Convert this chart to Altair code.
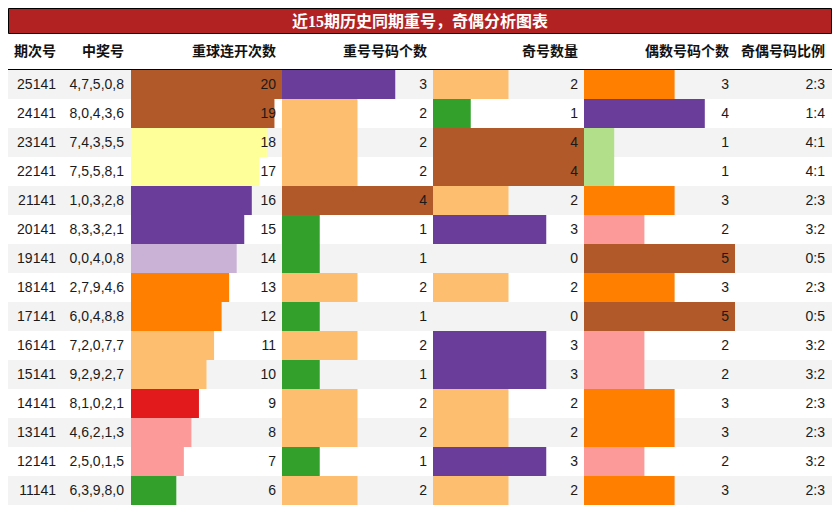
import altair as alt
import pandas as pd

title_text = "近15期历史同期重号，奇偶分析图表"
headers = ["期次号", "中奖号", "重球连开次数", "重号号码个数", "奇号数量", "偶数号码个数", "奇偶号码比例"]

periods = ["25141", "24141", "23141", "22141", "21141", "20141", "19141", "18141",
           "17141", "16141", "15141", "14141", "13141", "12141", "11141"]
draws = ["4,7,5,0,8", "8,0,4,3,6", "7,4,3,5,5", "7,5,5,8,1", "1,0,3,2,8", "8,3,3,2,1",
         "0,0,4,0,8", "2,7,9,4,6", "6,0,4,8,8", "7,2,0,7,7", "9,2,9,2,7", "8,1,0,2,1",
         "4,6,2,1,3", "2,5,0,1,5", "6,3,9,8,0"]
streak = [20, 19, 18, 17, 16, 15, 14, 13, 12, 11, 10, 9, 8, 7, 6]
repeat_cnt = [3, 2, 2, 2, 4, 1, 1, 2, 1, 2, 1, 2, 2, 1, 2]
odd_cnt = [2, 1, 4, 4, 2, 3, 0, 2, 0, 3, 3, 2, 2, 3, 2]
even_cnt = [3, 4, 1, 1, 3, 2, 5, 3, 5, 2, 2, 3, 3, 2, 3]
ratio = ["2:3", "1:4", "4:1", "4:1", "2:3", "3:2", "0:5", "2:3", "0:5", "3:2",
         "3:2", "2:3", "2:3", "3:2", "2:3"]

df = pd.DataFrame({
    "period": periods, "draw": draws, "streak": streak, "rep": repeat_cnt,
    "odd": odd_cnt, "even": even_cnt, "ratio": ratio,
    "row": list(range(len(periods))),
})

# layout (pixels)
W, H = 824, 498
TITLE_H = 25
HEAD_BOTTOM = 61
ROWS_TOP, ROWS_BOTTOM = 62, 497
COL_EDGES = [123, 274, 425, 576, 727]
TXT = "#1a1a1a"
FONT = "Liberation Sans, Arial, Noto Sans CJK SC"
CJK = "Noto Sans CJK SC"

BROWN, YELLOW, PURPLE, LPURPLE = "#b15928", "#ffff99", "#6a3d9a", "#cab2d6"
ORANGE, LORANGE, RED, PINK = "#ff7f00", "#fdbf6f", "#e31a1c", "#fb9a99"
GREEN, LGREEN = "#33a02c", "#b2df8a"

yenc = alt.Y("period:N", sort=periods, axis=None,
             scale=alt.Scale(range=[ROWS_TOP, ROWS_BOTTOM], paddingInner=0, paddingOuter=0))

stripes = alt.Chart(df).transform_filter("datum.row % 2 == 0").mark_rect(
    color="#f3f3f3").encode(y=yenc, x=alt.value(0), x2=alt.value(W))


def bar_column(field, dmax, x0, x1, header, cdomain, crange):
    sc = alt.Scale(domain=[0, dmax], range=[x0, x1], nice=False, zero=True)
    bars = alt.Chart(df).mark_bar(cornerRadius=0).encode(
        x=alt.X(f"{field}:Q", scale=sc, axis=None),
        y=yenc,
        color=alt.Color(f"{field}:O", scale=alt.Scale(domain=cdomain, range=crange), legend=None),
    )
    txt = alt.Chart(df).mark_text(align="right", baseline="middle", dx=-6, font=FONT,
                                  fontSize=14, color=TXT).encode(
        x=alt.XDatum(dmax, type="quantitative", scale=sc),
        y=yenc,
        text=alt.Text(f"{field}:Q"),
    )
    hdr = alt.Chart(pd.DataFrame({"h": [header]})).mark_text(
        align="right", baseline="middle", dx=-6, font=CJK, fontSize=14,
        fontWeight="bold", color="#111").encode(
        x=alt.XDatum(dmax, type="quantitative", scale=sc),
        y=alt.value((TITLE_H + HEAD_BOTTOM) / 2 + 1),
        text="h:N",
    )
    return alt.layer(bars, txt, hdr)


col_streak = bar_column(
    "streak", 20, COL_EDGES[0], COL_EDGES[1], headers[2],
    [20, 19, 18, 17, 16, 15, 14, 13, 12, 11, 10, 9, 8, 7, 6],
    [BROWN, BROWN, YELLOW, YELLOW, PURPLE, PURPLE, LPURPLE, ORANGE, ORANGE,
     LORANGE, LORANGE, RED, PINK, PINK, GREEN])
col_rep = bar_column("rep", 4, COL_EDGES[1], COL_EDGES[2], headers[3],
                     [4, 3, 2, 1, 0], [BROWN, PURPLE, LORANGE, GREEN, GREEN])
col_odd = bar_column("odd", 4, COL_EDGES[2], COL_EDGES[3], headers[4],
                     [4, 3, 2, 1, 0], [BROWN, PURPLE, LORANGE, GREEN, GREEN])
col_even = bar_column("even", 5, COL_EDGES[3], COL_EDGES[4], headers[5],
                      [5, 4, 3, 2, 1, 0], [BROWN, PURPLE, ORANGE, PINK, LGREEN, LGREEN])


def text_column(field, xr, header):
    txt = alt.Chart(df).mark_text(align="right", baseline="middle", font=FONT,
                                  fontSize=14, color=TXT).encode(
        x=alt.value(xr), y=yenc, text=f"{field}:N")
    hdr = alt.Chart(pd.DataFrame({"h": [header]})).mark_text(
        align="right", baseline="middle", font=CJK, fontSize=14,
        fontWeight="bold", color="#111").encode(
        x=alt.value(xr), y=alt.value((TITLE_H + HEAD_BOTTOM) / 2 + 1), text="h:N")
    return alt.layer(txt, hdr)


col_period = text_column("period", 48, headers[0])
col_draw = text_column("draw", 116, headers[1])
col_ratio = text_column("ratio", 817, headers[6])

tdf = pd.DataFrame({"t": [title_text]})
title_bar = alt.Chart(tdf).mark_rect(fill="#b22222", stroke="#000", strokeWidth=1).encode(
    x=alt.value(0.5), x2=alt.value(W - 0.5), y=alt.value(0.5), y2=alt.value(TITLE_H + 0.5))
title_txt = alt.Chart(tdf).mark_text(
    align="center", baseline="middle", font="Liberation Serif, Noto Sans CJK SC",
    fontSize=16, fontWeight="bold", color="white").encode(
    x=alt.value(W / 2), y=alt.value(TITLE_H / 2 + 1), text="t:N")
sep = alt.Chart(tdf).mark_rule(color="#000", strokeWidth=1.2).encode(
    x=alt.value(0), x2=alt.value(W), y=alt.value(HEAD_BOTTOM + 0.5))

chart = alt.layer(
    stripes, col_streak, col_rep, col_odd, col_even,
    col_period, col_draw, col_ratio, title_bar, title_txt, sep,
).resolve_scale(x="independent", color="independent").properties(
    width=W, height=H, padding=0, autosize=alt.AutoSizeParams(type="none"),
    background="white",
).configure_view(stroke=None)

chart.save("out.html", embed_options={"renderer": "svg", "actions": False})
